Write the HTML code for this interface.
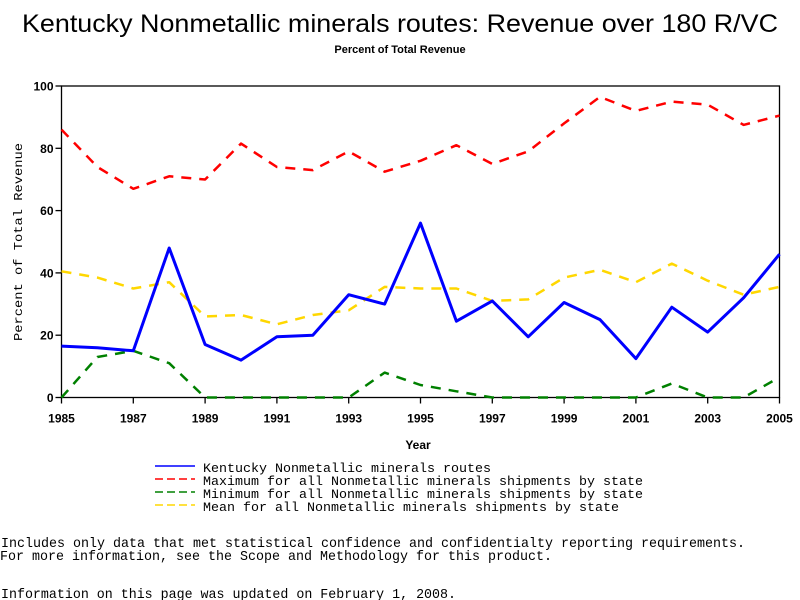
<!DOCTYPE html>
<html><head><meta charset="utf-8"><style>
html,body{margin:0;padding:0;background:#fff;}
svg{display:block;}
</style></head><body>
<svg id="chart" width="800" height="600" xmlns="http://www.w3.org/2000/svg">
<text x="400" y="32" text-anchor="middle" font-family="Liberation Sans, sans-serif" font-size="25" textLength="756" lengthAdjust="spacingAndGlyphs">Kentucky Nonmetallic minerals routes: Revenue over 180 R/VC</text>
<text x="400" y="53" text-anchor="middle" font-family="Liberation Sans, sans-serif" font-size="11" font-weight="bold">Percent of Total Revenue</text>
<g id="axes"></g>
<g id="series"></g>
<text x="418" y="449" text-anchor="middle" font-family="Liberation Sans, sans-serif" font-size="12" font-weight="bold">Year</text>
<text transform="translate(22,242) rotate(-90)" text-anchor="middle" font-family="Liberation Mono, monospace" font-size="12" textLength="198" lengthAdjust="spacingAndGlyphs">Percent of Total Revenue</text>
<g font-family="Liberation Mono, monospace" font-size="13.3">
<g><line x1="155" y1="466" x2="195" y2="466" stroke="#0000ff" stroke-width="1.5"/><text x="203" y="472" textLength="288" lengthAdjust="spacingAndGlyphs">Kentucky Nonmetallic minerals routes</text></g>
<g><line x1="155" y1="479" x2="195" y2="479" stroke="#ff0000" stroke-width="1.5" stroke-dasharray="8,4"/><text x="203" y="485" textLength="440" lengthAdjust="spacingAndGlyphs">Maximum for all Nonmetallic minerals shipments by state</text></g>
<g><line x1="155" y1="492" x2="195" y2="492" stroke="#008000" stroke-width="1.5" stroke-dasharray="8,4"/><text x="203" y="498" textLength="440" lengthAdjust="spacingAndGlyphs">Minimum for all Nonmetallic minerals shipments by state</text></g>
<g><line x1="155" y1="505" x2="195" y2="505" stroke="#ffd700" stroke-width="1.5" stroke-dasharray="8,4"/><text x="203" y="511" textLength="416" lengthAdjust="spacingAndGlyphs">Mean for all Nonmetallic minerals shipments by state</text></g>
</g>
<g font-family="Liberation Mono, monospace" font-size="14">
<text x="1" y="547" textLength="744" lengthAdjust="spacingAndGlyphs">Includes only data that met statistical confidence and confidentialty reporting requirements.</text>
<text x="0" y="560" textLength="552" lengthAdjust="spacingAndGlyphs">For more information, see the Scope and Methodology for this product.</text>
<text x="1" y="598" textLength="455" lengthAdjust="spacingAndGlyphs">Information on this page was updated on February 1, 2008.</text>
</g>
</svg>
<script>
const years = [1985,1986,1987,1988,1989,1990,1991,1992,1993,1994,1995,1996,1997,1998,1999,2000,2001,2002,2003,2004,2005];
const kentucky = [16.5,16,15,48,17,12,19.5,20,33,30,56,24.5,31,19.5,30.5,25,12.5,29,21,32,46];
const maximum = [86,74,67,71,70,81.5,74,73,79,72.5,76,81,75,79,88,96.5,92,95,94,87.5,90.5];
const minimum = [0,13,15,11,0,0,0,0,0,8,4,2,0,0,0,0,0,4.5,0,0,6.5];
const mean = [40.5,38.5,35,37,26,26.5,23.5,26.5,28,35.5,35,35,31,31.5,38.5,41,37,43,37.5,33,35.5];
const yTicks = [0,20,40,60,80,100];
const xTickLabels = [1985,1987,1989,1991,1993,1995,1997,1999,2001,2003,2005];

const NS = 'http://www.w3.org/2000/svg';
const L = 61.5, R = 779.5, T = 86, B = 397.5;
const xs = y => L + (y - 1985) / 20 * (R - L);
const ys = v => B - v / 100 * (B - T);
function mk(tag, attrs, parent){const e=document.createElementNS(NS,tag);for(const k in attrs)e.setAttribute(k,attrs[k]);parent.appendChild(e);return e;}
const axes = document.getElementById('axes');
const frame = mk('rect',{x:L,y:T,width:R-L,height:B-T,fill:'none',stroke:'#000','stroke-width':1.3},axes);


yTicks.forEach(v=>{
  const t = mk('line',{x1:L-6,x2:L,y1:ys(v),y2:ys(v),stroke:'#000','stroke-width':1.3},axes);
  
  
  const lb = mk('text',{x:L-8,y:ys(v)+4.5,'text-anchor':'end','font-family':'Liberation Sans, sans-serif','font-size':12,'font-weight':'bold'},axes);
  lb.textContent = v;
  
  
});
xTickLabels.forEach(y=>{
  const t = mk('line',{x1:xs(y),x2:xs(y),y1:B,y2:B+6,stroke:'#000','stroke-width':1.3},axes);
  
  
  const lb = mk('text',{x:xs(y),y:B+25,'text-anchor':'middle','font-family':'Liberation Sans, sans-serif','font-size':12,'font-weight':'bold'},axes);
  lb.textContent = y;
  
  
});
const series = document.getElementById('series');
function line(vals, color, width, dash, name){
  const d = vals.map((v,i)=>(i?'L':'M')+xs(years[i]).toFixed(1)+','+ys(v).toFixed(1)).join(' ');
  const p = mk('path',{d:d,fill:'none',stroke:color,'stroke-width':width,'stroke-linejoin':'round'},series);
  if(dash) p.setAttribute('stroke-dasharray',dash);
  
  
}
line(maximum,'#ff0000',2.5,'10,8','series-maximum');
line(mean,'#ffd700',2.5,'10,8','series-mean');
line(minimum,'#008000',2.5,'10,8','series-minimum');
line(kentucky,'#0000ff',3,null,'series-kentucky');
</script>
</body></html>
